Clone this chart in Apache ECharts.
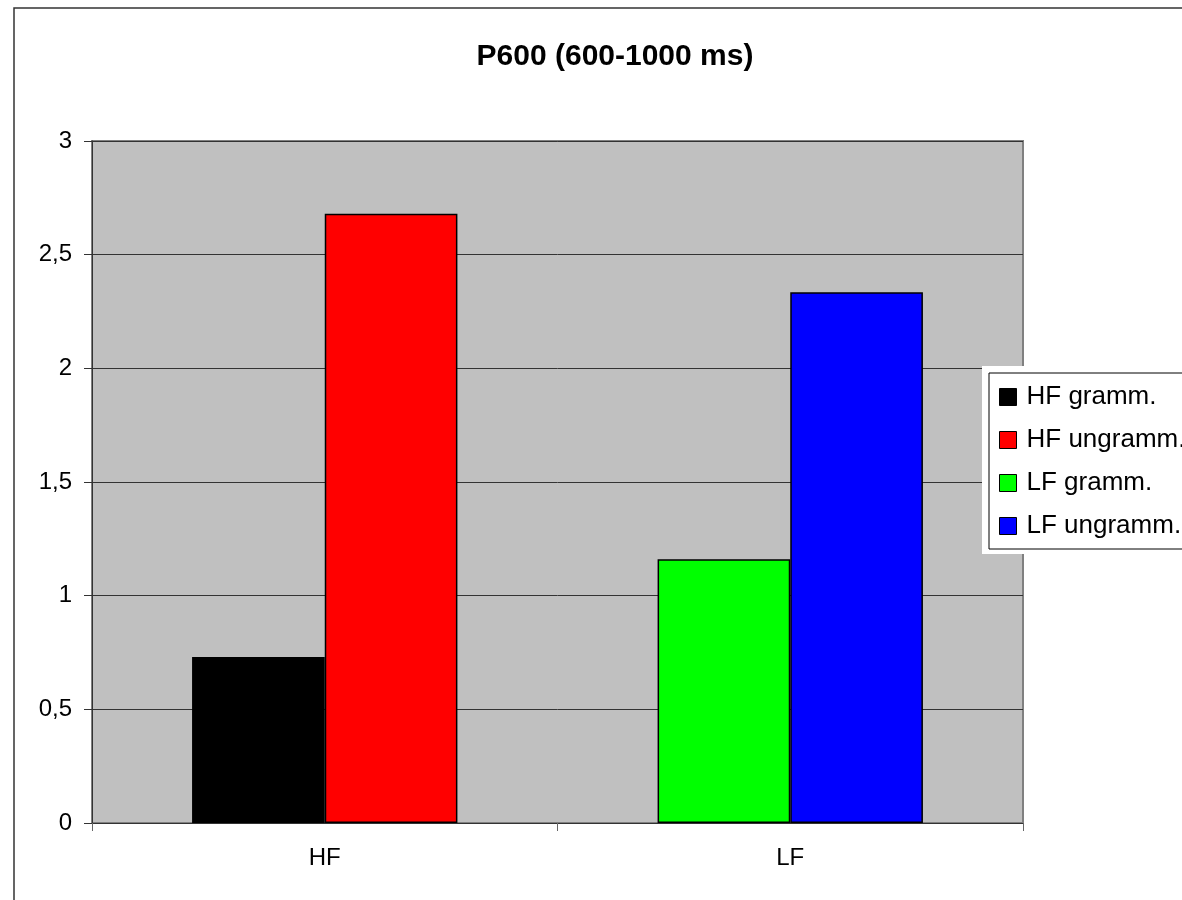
<!DOCTYPE html>
<html>
<head>
<meta charset="utf-8">
<script src="https://cdn.jsdelivr.net/npm/echarts@6/dist/echarts.min.js"></script>
<style>
html, body { margin: 0; padding: 0; overflow: hidden; background: #fff; }
#chart { width: 1260px; height: 900px; }
</style>
</head>
<body>
<div id="chart"></div>
<script>
var categories = ['HF', 'LF'];
var seriesNames = ['HF gramm.', 'HF ungramm.', 'LF gramm.', 'LF ungramm.'];
var seriesColors = ['#000000', '#ff0000', '#00ff00', '#0000ff'];
var stacks = ['gramm', 'ungramm', 'gramm', 'ungramm'];
// '-' = no bar for that condition in that category
var hfGramm = [0.73, '-'];
var hfUngramm = [2.68, '-'];
var lfGramm = ['-', 1.16];
var lfUngramm = ['-', 2.335];
var seriesValues = [hfGramm, hfUngramm, lfGramm, lfUngramm];

var dom = document.getElementById('chart');
var myChart = echarts.init(dom);

var series = [];
for (var i = 0; i < seriesNames.length; i++) {
    series.push({
        name: seriesNames[i],
        type: 'bar',
        stack: stacks[i],
        data: seriesValues[i],
        barCategoryGap: '43%',
        barGap: 0,
        itemStyle: {
            color: seriesColors[i],
            borderColor: '#000',
            borderWidth: 1.5
        }
    });
}

var option = {
    animation: false,
    textStyle: { fontFamily: 'Liberation Sans, Arial, sans-serif' },
    title: {
        text: 'P600 (600-1000 ms)',
        left: 610,
        top: 37,
        textAlign: 'center',
        textStyle: {
            fontSize: 30,
            fontWeight: 'bold',
            color: '#000',
            fontFamily: 'Liberation Sans, Arial, sans-serif'
        }
    },
    legend: {
        orient: 'vertical',
        left: 989,
        top: 373,
        padding: [11, 10, 10, 10],
        backgroundColor: '#fff',
        borderColor: '#000',
        borderWidth: 1,
        itemWidth: 17,
        itemHeight: 17,
        itemGap: 17,
        icon: 'rect',
        itemStyle: { borderColor: '#000', borderWidth: 1 },
        textStyle: {
            fontSize: 26,
            color: '#000',
            padding: [0, 0, 0, 5],
            fontFamily: 'Liberation Sans, Arial, sans-serif'
        },
        data: seriesNames
    },
    graphic: [
        {
            type: 'rect',
            z: -10,
            silent: true,
            shape: { x: 14, y: 8, width: 1400, height: 1000 },
            style: { fill: 'none', stroke: '#333', lineWidth: 1.5 }
        },
        {
            type: 'rect',
            z: 3,
            silent: true,
            shape: { x: 982, y: 366, width: 300, height: 188 },
            style: { fill: '#fff' }
        }
    ],
    grid: {
        left: 92,
        right: 237,
        top: 141,
        bottom: 77,
        show: true,
        backgroundColor: '#c0c0c0',
        borderColor: '#808080',
        borderWidth: 2
    },
    xAxis: {
        type: 'category',
        data: categories,
        axisLine: { lineStyle: { color: '#333', width: 1 } },
        axisTick: { show: true, length: 8, lineStyle: { color: '#666' } },
        axisLabel: { fontSize: 24, color: '#000', margin: 23 }
    },
    yAxis: {
        type: 'value',
        min: 0,
        max: 3,
        interval: 0.5,
        axisLine: { show: true, lineStyle: { color: '#333', width: 1 } },
        axisTick: { show: true, length: 8, lineStyle: { color: '#333' } },
        axisLabel: {
            fontSize: 24,
            color: '#000',
            margin: 20,
            formatter: function (v) { return String(v).replace('.', ','); }
        },
        splitLine: { lineStyle: { color: '#333', width: 1 } }
    },
    series: series
};

myChart.setOption(option, true);
</script>
</body>
</html>
